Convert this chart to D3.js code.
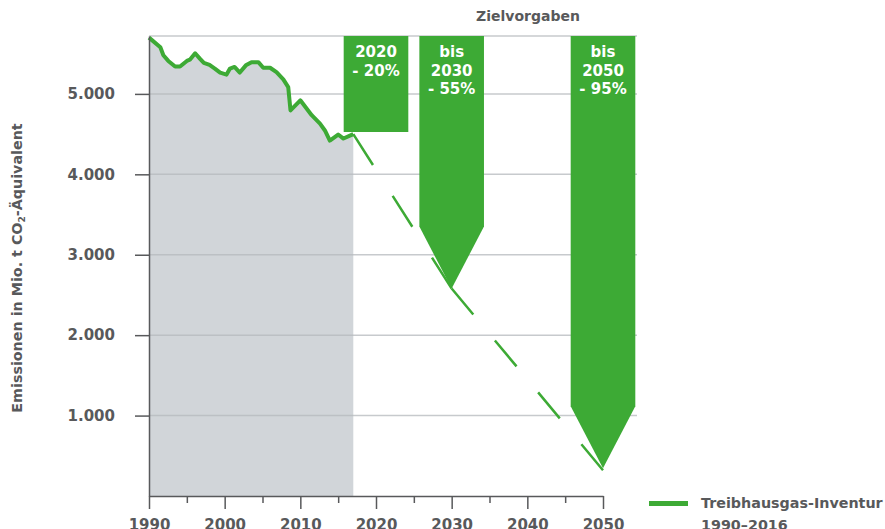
<!DOCTYPE html>
<html>
<head>
<meta charset="utf-8">
<script src="https://cdn.jsdelivr.net/npm/d3@7"></script>
<style>
  body { margin: 0; background: #fff; }
  svg { display: block; font-family: "DejaVu Sans", sans-serif; font-weight: bold; }
</style>
</head>
<body>
<svg id="chart"></svg>
<script>
// Treibhausgas-Inventur
const invYears = [1990, 1991.5, 1991.9, 1992.55, 1993.45, 1994.1, 1995, 1995.4, 1996.1, 1996.75,
  1997.25, 1998, 1998.7, 1999.4, 2000.25, 2000.7, 2001.3, 2002, 2002.8, 2003.55,
  2004.45, 2005.1, 2006, 2006.85, 2007.75, 2008.4, 2008.7, 2010, 2011.5, 2012.6,
  2013.25, 2013.9, 2015, 2015.7, 2017];
const invValues = [5700, 5580, 5480, 5410, 5340, 5340, 5410, 5425, 5505, 5435,
  5385, 5360, 5315, 5265, 5240, 5315, 5335, 5265, 5355, 5395,
  5395, 5325, 5325, 5270, 5180, 5085, 4795, 4920, 4735, 4630,
  4545, 4420, 4495, 4445, 4500];

// projected path (dashed)
const projYears = [2017, 2030, 2050];
const projValues = [4500, 2580, 320];

// Zielvorgaben
const targetYears = [2020, 2030, 2050];
const targetValues = [4525, 2580, 345];
const targetTipped = [false, true, true];
const targetLabels = [["2020", "- 20%"], ["bis", "2030", "- 55%"], ["bis", "2050", "- 95%"]];

const yTicks = [1000, 2000, 3000, 4000, 5000];
const xMajor = [1990, 2000, 2010, 2020, 2030, 2040, 2050];
const xMinor = [1995, 2005, 2015, 2025, 2035, 2045];

const width = 885, height = 529;
const green = "#3daa35";
const textColor = "#58595b";

const svg = d3.select("#chart").attr("width", width).attr("height", height);

const x = d3.scaleLinear().domain([1990, 2050]).range([149, 603]);
const y = d3.scaleLinear().domain([0, 5720]).range([496, 36]);

const de = d3.formatLocale({ decimal: ",", thousands: ".", grouping: [3], currency: ["", " €"] });
const fmt = de.format(",");

const inv = invYears.map((yr, i) => ({ year: yr, value: invValues[i] }));
const proj = projYears.map((yr, i) => ({ year: yr, value: projValues[i] }));

// grey area under the inventory line
svg.append("path")
    .datum(inv)
    .attr("fill", "#d1d5d9")
    .attr("d", d3.area().x(d => x(d.year)).y0(y(0)).y1(d => y(d.value)));

// gridlines
const gridRight = x(2050) + 34;
svg.append("g")
    .selectAll("line")
    .data(yTicks.concat([y.domain()[1]]))
    .join("line")
    .attr("x1", x(1990)).attr("x2", gridRight)
    .attr("y1", d => y(d)).attr("y2", d => y(d))
    .attr("stroke", "#b4b8bc")
    .attr("stroke-opacity", 0.75)
    .attr("stroke-width", 1.5);

// target boxes / arrows
const halfW = 4.27; // years
const taper = 62;
const tg = svg.append("g");
targetYears.forEach((yr, i) => {
    const l = x(yr - halfW), r = x(yr + halfW), top = y.range()[1];
    const tipY = y(targetValues[i]);
    let pts;
    if (targetTipped[i]) {
        pts = [[l, top], [r, top], [r, tipY - taper], [x(yr), tipY], [l, tipY - taper]];
    } else {
        pts = [[l, top], [r, top], [r, tipY], [l, tipY]];
    }
    tg.append("path")
        .attr("d", d3.line()(pts) + "Z")
        .attr("fill", green);
    tg.append("text")
        .attr("text-anchor", "middle")
        .attr("fill", "#fff")
        .attr("font-size", 15)
        .selectAll("tspan")
        .data(targetLabels[i])
        .join("tspan")
        .attr("x", x(yr))
        .attr("y", (d, j) => 57 + j * 18.7)
        .text(d => d);
});

// projection: two dashed pieces, each ending on a dash
const lineGen = d3.line().x(d => x(d.year)).y(d => y(d.value));
const dashCounts = [5, 7];
for (let k = 0; k < proj.length - 1; k++) {
    const p = svg.append("path")
        .datum([proj[k], proj[k + 1]])
        .attr("fill", "none")
        .attr("stroke", green)
        .attr("stroke-width", 2.5)
        .attr("d", lineGen);
    const len = p.node().getTotalLength() / dashCounts[k];
    p.attr("stroke-dasharray", `${len} ${len}`);
}

// inventory line
svg.append("path")
    .datum(inv)
    .attr("fill", "none")
    .attr("stroke", green)
    .attr("stroke-width", 4)
    .attr("stroke-linejoin", "round")
    .attr("d", lineGen);

// y axis
const yAxis = svg.append("g")
    .attr("transform", `translate(${x(1990)},0)`)
    .call(d3.axisLeft(y).tickValues(yTicks).tickFormat(fmt).tickSize(14).tickSizeOuter(0).tickPadding(20));
yAxis.select(".domain").attr("stroke", textColor).attr("stroke-width", 1.5);
yAxis.selectAll(".tick line").attr("stroke", textColor).attr("stroke-width", 1.5);
yAxis.selectAll("text").attr("fill", textColor).attr("font-size", 15)
    .attr("font-family", "DejaVu Sans").attr("font-weight", "bold");

// x axis
const xAxis = svg.append("g")
    .attr("transform", `translate(0,${y(0)})`)
    .call(d3.axisBottom(x).tickValues(xMajor).tickFormat(d3.format("d")).tickSize(13).tickSizeOuter(0).tickPadding(10));
xAxis.select(".domain").attr("stroke", textColor).attr("stroke-width", 1.5);
xAxis.selectAll(".tick line").attr("stroke", textColor).attr("stroke-width", 1.5);
xAxis.selectAll("text").attr("fill", textColor).attr("font-size", 15)
    .attr("font-family", "DejaVu Sans").attr("font-weight", "bold");

const xMinorAxis = svg.append("g")
    .attr("transform", `translate(0,${y(0)})`)
    .call(d3.axisBottom(x).tickValues(xMinor).tickFormat("").tickSize(7).tickSizeOuter(0));
xMinorAxis.select(".domain").remove();
xMinorAxis.selectAll(".tick line").attr("stroke", textColor).attr("stroke-width", 1.5);

// y axis title
const yTitle = svg.append("text")
    .attr("transform", "translate(22,268) rotate(-90)")
    .attr("text-anchor", "middle")
    .attr("fill", textColor)
    .attr("font-size", 14.3);
yTitle.append("tspan").text("Emissionen in Mio. t CO");
yTitle.append("tspan").attr("font-size", 9).attr("dy", 3).text("2");
yTitle.append("tspan").attr("dy", -3).text("-Äquivalent");

// header
svg.append("text")
    .attr("x", 528).attr("y", 21)
    .attr("text-anchor", "middle")
    .attr("fill", textColor)
    .attr("font-size", 14)
    .text("Zielvorgaben");

// legend
const legend = svg.append("g");
legend.append("line")
    .attr("x1", 649).attr("x2", 688)
    .attr("y1", 503.5).attr("y2", 503.5)
    .attr("stroke", green).attr("stroke-width", 5);
legend.append("text")
    .attr("fill", textColor)
    .attr("font-size", 14.3)
    .selectAll("tspan")
    .data(["Treibhausgas-Inventur", "1990–2016"])
    .join("tspan")
    .attr("x", 701)
    .attr("y", (d, i) => 507.5 + i * 22)
    .text(d => d);
</script>
</body>
</html>
